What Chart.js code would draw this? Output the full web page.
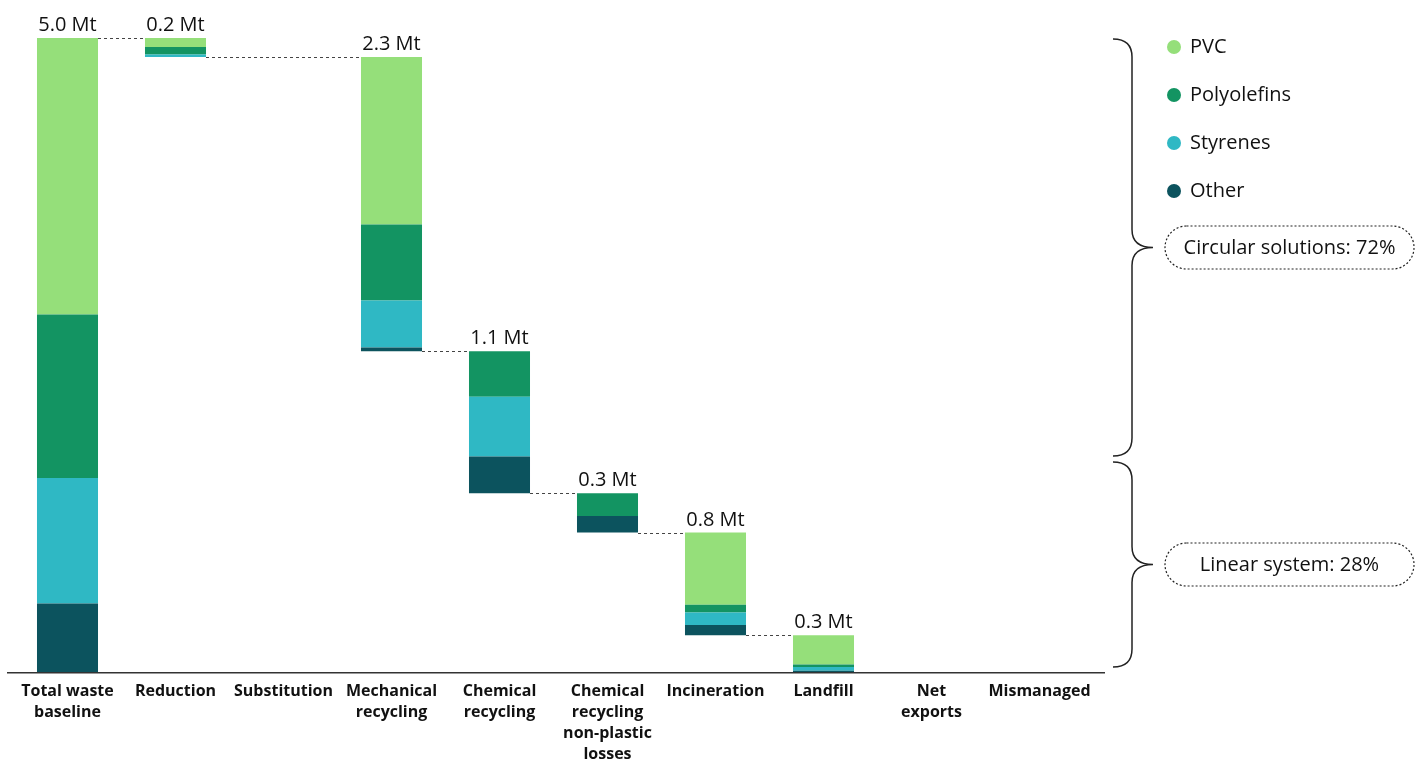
<!DOCTYPE html>
<html>
<head>
<meta charset="utf-8">
<script src="https://cdn.jsdelivr.net/npm/chart.js@4.4.0/dist/chart.umd.min.js"></script>
<style>
  html, body { margin: 0; padding: 0; background: #fff; overflow: hidden; }
  #wrap { width: 1424px; height: 761px; position: relative; }
</style>
</head>
<body>
<div id="wrap"><canvas id="waterfall"></canvas></div>
<script>
// categories along the waterfall
var categories = [
  ["Total waste", "baseline"], "Reduction", "Substitution", ["Mechanical", "recycling"],
  ["Chemical", "recycling"], ["Chemical", "recycling", "non-plastic", "losses"],
  "Incineration", "Landfill", ["Net", "exports"], "Mismanaged"
];

// Mt per polymer group
var pvc         = [2.18, 0.07, 0, 1.32, 0,    0,    0.57, 0.23, 0, 0];
var polyolefins = [1.29, 0.06, 0, 0.60, 0.36, 0.18, 0.06, 0.02, 0, 0];
var styrenes    = [0.99, 0.02, 0, 0.37, 0.47, 0,    0.10, 0.03, 0, 0];
var other       = [0.54, 0,    0, 0.03, 0.29, 0.13, 0.08, 0.01, 0, 0];

var barLabels = ["5.0 Mt", "0.2 Mt", null, "2.3 Mt", "1.1 Mt", "0.3 Mt", "0.8 Mt", "0.3 Mt", null, null];

var groupNote = ["Circular solutions: 72%", "Linear system: 28%"];

var FONT = "'Open Sans', Lato, sans-serif";

// totals and invisible base for the floating steps
var totals = categories.map(function (c, i) {
  return pvc[i] + polyolefins[i] + styrenes[i] + other[i];
});
var base = [];
var level = totals[0];
totals.forEach(function (t, i) {
  if (i === 0) { base.push(0); return; }
  level = Math.max(0, Math.round((level - t) * 100) / 100);
  base.push(level);
});

// dotted connectors, value labels, axis line, legend and braces
var extrasPlugin = {
  id: 'extras',
  afterDatasetsDraw: function (chart) {
    var ctx = chart.ctx;
    var y = chart.scales.y;
    var meta = chart.getDatasetMeta(4);

    ctx.save();
    // axis line
    ctx.strokeStyle = '#333';
    ctx.lineWidth = 1.5;
    ctx.beginPath();
    ctx.moveTo(7, y.getPixelForValue(0) + 0.75);
    ctx.lineTo(1105, y.getPixelForValue(0) + 0.75);
    ctx.stroke();

    // connectors
    ctx.setLineDash([3, 3]);
    ctx.lineWidth = 1;
    ctx.strokeStyle = '#444';
    var nonzero = [];
    totals.forEach(function (t, i) { if (t > 0) nonzero.push(i); });
    for (var k = 0; k < nonzero.length - 1; k++) {
      var a = nonzero[k], b = nonzero[k + 1];
      var lv = base[b] + totals[b];
      var py = Math.round(y.getPixelForValue(lv)) + 0.5;
      var ba = meta.data[a], bb = meta.data[b];
      ctx.beginPath();
      ctx.moveTo(ba.x + ba.width / 2, py);
      ctx.lineTo(bb.x - bb.width / 2, py);
      ctx.stroke();
    }
    ctx.setLineDash([]);

    // value labels
    ctx.fillStyle = '#111';
    ctx.font = '20px ' + FONT;
    ctx.textAlign = 'center';
    ctx.textBaseline = 'alphabetic';
    barLabels.forEach(function (lab, i) {
      if (!lab) return;
      var top = y.getPixelForValue(base[i] + totals[i]);
      ctx.fillText(lab, meta.data[i].x, top - 7);
    });

    // legend, top series first
    var legendSets = chart.data.datasets.slice(1).reverse();
    ctx.textAlign = 'left';
    ctx.textBaseline = 'middle';
    legendSets.forEach(function (ds, i) {
      var ly = 47 + i * 48;
      ctx.fillStyle = ds.backgroundColor;
      ctx.beginPath();
      ctx.arc(1174, ly, 7, 0, Math.PI * 2);
      ctx.fill();
      ctx.fillStyle = '#111';
      ctx.fillText(ds.label, 1190, ly);
    });

    // braces
    function brace(y0, y1) {
      var xl = 1113, xv = 1132, xt = 1153, ym = (y0 + y1) / 2, r = 18;
      ctx.beginPath();
      ctx.moveTo(xl, y0);
      ctx.quadraticCurveTo(xv, y0, xv, y0 + r);
      ctx.lineTo(xv, ym - r);
      ctx.quadraticCurveTo(xv, ym, xt, ym);
      ctx.quadraticCurveTo(xv, ym, xv, ym + r);
      ctx.lineTo(xv, y1 - r);
      ctx.quadraticCurveTo(xv, y1, xl, y1);
      ctx.stroke();
      return ym;
    }
    function pill(cy, text) {
      var x0 = 1165, w = 249, h = 43, r = h / 2, t = cy - r;
      ctx.setLineDash([2, 2]);
      ctx.lineWidth = 1.2;
      ctx.beginPath();
      ctx.moveTo(x0 + r, t);
      ctx.lineTo(x0 + w - r, t);
      ctx.arc(x0 + w - r, cy, r, -Math.PI / 2, Math.PI / 2);
      ctx.lineTo(x0 + r, t + h);
      ctx.arc(x0 + r, cy, r, Math.PI / 2, Math.PI * 1.5);
      ctx.closePath();
      ctx.stroke();
      ctx.setLineDash([]);
      ctx.textAlign = 'center';
      ctx.fillText(text, x0 + w / 2, cy + 1);
    }
    ctx.strokeStyle = '#222';
    ctx.lineWidth = 1.5;
    var m1 = brace(39, 456);
    ctx.lineWidth = 1.5;
    var m2 = brace(462, 667);
    pill(m1, groupNote[0]);
    ctx.lineWidth = 1.5;
    pill(m2, groupNote[1]);
    ctx.restore();
  }
};

var waterfallChart = new Chart(document.getElementById("waterfall"), {
  type: 'bar',
  data: {
    labels: categories,
    datasets: [
      { label: "base", data: base, backgroundColor: 'rgba(0,0,0,0)' },
      { label: "Other", data: other, backgroundColor: "#0c535e" },
      { label: "Styrenes", data: styrenes, backgroundColor: "#2fb8c4" },
      { label: "Polyolefins", data: polyolefins, backgroundColor: "#139462" },
      { label: "PVC", data: pvc, backgroundColor: "#95df7a" }
    ]
  },
  options: {
    responsive: true,
    maintainAspectRatio: false,
    animation: false,
    categoryPercentage: 1,
    barPercentage: 0.565,
    layout: {
      padding: { top: 38, left: 13.5, right: 330.5, bottom: 0 }
    },
    plugins: {
      legend: { display: false },
      tooltip: { enabled: false },
      title: { display: false }
    },
    scales: {
      x: {
        stacked: true,
        grid: { display: false, drawTicks: false },
        border: { display: false },
        ticks: {
          autoSkip: false,
          maxRotation: 0,
          padding: 9,
          color: '#111',
          font: { family: FONT, size: 16, weight: 'bold', lineHeight: 1.32 }
        },
        afterFit: function (scale) { scale.height = 89; }
      },
      y: {
        stacked: true,
        display: false,
        min: 0,
        max: 5.0
      }
    }
  },
  plugins: [extrasPlugin]
});
</script>
</body>
</html>
